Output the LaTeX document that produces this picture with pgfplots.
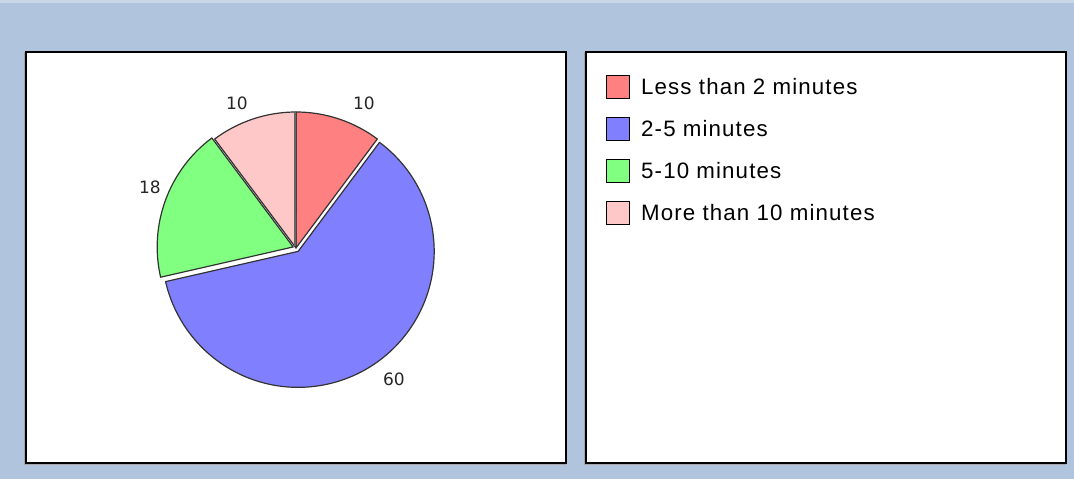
\documentclass[border=0pt]{standalone}
\usepackage{pgfplots}
\pgfplotsset{compat=1.18}
\usepackage{pgfplotstable}
\usepackage{fontspec}
\setmainfont{Liberation Sans}
\newfontfamily\legfont[LetterSpace=5]{Liberation Sans}
\newfontfamily\labfont{DejaVu Sans}
\definecolor{bgblue}{RGB}{176,196,222}
\definecolor{bgtop}{RGB}{200,214,232}
\definecolor{cA}{RGB}{255,128,128}
\definecolor{cB}{RGB}{128,128,255}
\definecolor{cC}{RGB}{128,255,128}
\definecolor{cD}{RGB}{255,200,200}
\pgfplotstableread{
name value explode
Less 10 0
Mid 60 4
Five 18 3
More 10 0
}\piedata
\begin{document}
\begin{tikzpicture}
\pgfplotstablegetelem{0}{value}\of\piedata \edef\vA{\pgfplotsretval}
\pgfplotstablegetelem{1}{value}\of\piedata \edef\vB{\pgfplotsretval}
\pgfplotstablegetelem{2}{value}\of\piedata \edef\vC{\pgfplotsretval}
\pgfplotstablegetelem{3}{value}\of\piedata \edef\vD{\pgfplotsretval}
\pgfplotstablegetelem{1}{explode}\of\piedata \edef\eB{\pgfplotsretval}
\pgfplotstablegetelem{2}{explode}\of\piedata \edef\eC{\pgfplotsretval}
\pgfmathsetmacro\tot{\vA+\vB+\vC+\vD}
\pgfmathsetmacro\aA{90}
\pgfmathsetmacro\aB{\aA-\vA/\tot*360}
\pgfmathsetmacro\aC{\aB-\vB/\tot*360}
\pgfmathsetmacro\aD{\aC-\vC/\tot*360}
\pgfmathsetmacro\aE{\aD-\vD/\tot*360}
\pgfmathsetmacro\mB{(\aB+\aC)/2}
\pgfmathsetmacro\mC{(\aC+\aD)/2}
\def\R{136pt}
\begin{axis}[scale only axis, width=1074pt, height=479pt,
  xmin=0, xmax=1074, ymin=0, ymax=479, hide axis, clip=false]
% background
\fill[bgblue] (axis cs:0,0) rectangle (axis cs:1074,479);
\fill[bgtop] (axis cs:0,476) rectangle (axis cs:1074,479);
% panels
\draw[gray!70, line width=2pt, fill=gray!70] (axis cs:25,15) rectangle (axis cs:565,426);
\draw[black, line width=1.8pt, fill=white] (axis cs:26,16) rectangle (axis cs:566,427);
\draw[gray!70, line width=2pt, fill=gray!70] (axis cs:585,15) rectangle (axis cs:1065,426);
\draw[black, line width=1.8pt, fill=white] (axis cs:586,16) rectangle (axis cs:1066,427);
% pie
\filldraw[fill=cA, draw=black!80, line width=1.2pt, line join=round]
  (axis cs:296,231) -- ++(\aA:\R) arc[start angle=\aA, end angle=\aB, radius=\R] -- cycle;
\filldraw[shift={(\mB:\eB pt)}, fill=cB, draw=black!80, line width=1.2pt, line join=round]
  (axis cs:296,231) -- ++(\aB:\R) arc[start angle=\aB, end angle=\aC, radius=\R] -- cycle;
\filldraw[shift={(\mC:\eC pt)}, fill=cC, draw=black!80, line width=1.2pt, line join=round]
  (axis cs:296,231) -- ++(\aC:\R) arc[start angle=\aC, end angle=\aD, radius=\R] -- cycle;
\filldraw[fill=cD, draw=black!80, line width=1.2pt, line join=round]
  (axis cs:296,231) -- ++(\aD:\R) arc[start angle=\aD, end angle=\aE, radius=\R] -- cycle;
\draw[black!60, line width=2.5pt] (axis cs:295,233) -- ++(90:\R-2pt);
% labels
\node[font=\labfont\fontsize{17}{20}\selectfont, text=black!85] at (axis cs:364,376) {\vA};
\node[font=\labfont\fontsize{17}{20}\selectfont, text=black!85] at (axis cs:394,100) {\vB};
\node[font=\labfont\fontsize{17}{20}\selectfont, text=black!85] at (axis cs:150,292) {\vC};
\node[font=\labfont\fontsize{17}{20}\selectfont, text=black!85] at (axis cs:237,376) {\vD};
% legend
\foreach \yy/\cc/\tt in {392/cA/Less than 2 minutes, 350/cB/2-5 minutes, 308/cC/5-10 minutes, 266/cD/More than 10 minutes}{
  \edef\temp{\noexpand\node[draw=black, line width=1.8pt, fill=\cc, minimum size=23pt, inner sep=0pt] at (axis cs:618,\yy) {};
  \noexpand\node[anchor=west, inner sep=0pt, font=\noexpand\legfont\noexpand\fontsize{22.3}{25}\noexpand\selectfont] at (axis cs:641,\yy) {\tt};}
  \temp
}
\end{axis}
\end{tikzpicture}
\end{document}
